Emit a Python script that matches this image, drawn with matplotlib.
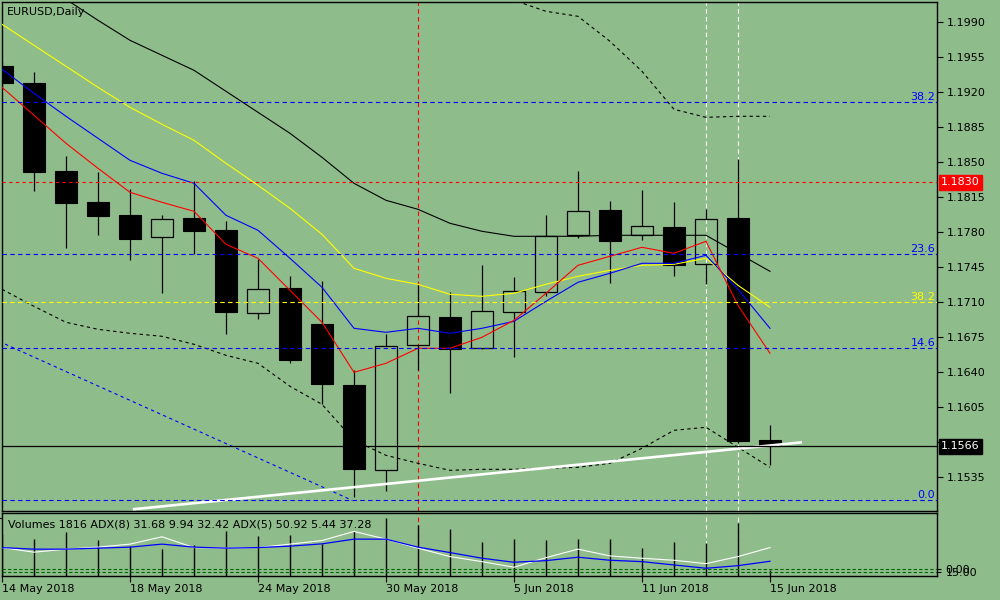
import numpy as np
import matplotlib.pyplot as plt

BG = '#8fbc8b'

# daily EURUSD candles, 14 May .. 15 Jun 2018 (trading days only)
dates = ['14 May', '15 May', '16 May', '17 May', '18 May',
         '21 May', '22 May', '23 May', '24 May', '25 May',
         '28 May', '29 May', '30 May', '31 May', '1 Jun',
         '4 Jun', '5 Jun', '6 Jun', '7 Jun', '8 Jun',
         '11 Jun', '12 Jun', '13 Jun', '14 Jun', '15 Jun']
opens  = [1.1946, 1.1929, 1.1841, 1.1810, 1.1797, 1.1775, 1.1794, 1.1782, 1.1699, 1.1724,
          1.1688, 1.1627, 1.1542, 1.1667, 1.1695, 1.1664, 1.1700, 1.1720, 1.1777, 1.1802,
          1.1777, 1.1785, 1.1748, 1.1794, 1.1572]
highs  = [1.1950, 1.1940, 1.1856, 1.1840, 1.1823, 1.1797, 1.1831, 1.1791, 1.1753, 1.1736,
          1.1731, 1.1642, 1.1678, 1.1727, 1.1720, 1.1747, 1.1735, 1.1797, 1.1841, 1.1811,
          1.1822, 1.1810, 1.1803, 1.1853, 1.1587]
lows   = [1.1926, 1.1821, 1.1764, 1.1777, 1.1752, 1.1719, 1.1758, 1.1678, 1.1693, 1.1649,
          1.1608, 1.1515, 1.1521, 1.1642, 1.1619, 1.1663, 1.1655, 1.1716, 1.1774, 1.1729,
          1.1772, 1.1736, 1.1728, 1.1569, 1.1547]
closes = [1.1929, 1.1840, 1.1809, 1.1796, 1.1773, 1.1793, 1.1781, 1.1700, 1.1723, 1.1652,
          1.1628, 1.1543, 1.1666, 1.1696, 1.1663, 1.1701, 1.1721, 1.1776, 1.1801, 1.1771,
          1.1786, 1.1747, 1.1793, 1.1571, 1.1566]

# moving averages / bands
ma_black  = [1.2056, 1.2034, 1.2013, 1.1992, 1.1972, 1.1957, 1.1942, 1.1921, 1.1900, 1.1879,
             1.1855, 1.1829, 1.1812, 1.1803, 1.1789, 1.1781, 1.1776, 1.1776, 1.1776, 1.1777,
             1.1777, 1.1777, 1.1777, 1.1759, 1.1741]
ma_yellow = [1.1988, 1.1967, 1.1946, 1.1925, 1.1905, 1.1888, 1.1872, 1.1849, 1.1827, 1.1804,
             1.1778, 1.1744, 1.1734, 1.1728, 1.1718, 1.1716, 1.1719, 1.1728, 1.1736, 1.1742,
             1.1747, 1.1748, 1.1754, 1.1727, 1.1705]
ma_blue   = [1.1943, 1.1919, 1.1896, 1.1874, 1.1852, 1.1839, 1.1829, 1.1797, 1.1782, 1.1754,
             1.1725, 1.1684, 1.1680, 1.1684, 1.1679, 1.1684, 1.1691, 1.1711, 1.1730, 1.1739,
             1.1749, 1.1749, 1.1757, 1.1723, 1.1684]
ma_red    = [1.1925, 1.1897, 1.1869, 1.1844, 1.1820, 1.1810, 1.1801, 1.1768, 1.1754, 1.1722,
             1.1690, 1.1640, 1.1649, 1.1664, 1.1664, 1.1675, 1.1692, 1.1719, 1.1747, 1.1756,
             1.1765, 1.1759, 1.1771, 1.1707, 1.1659]
band_low  = [1.1723, 1.1706, 1.1690, 1.1683, 1.1679, 1.1676, 1.1668, 1.1657, 1.1649, 1.1626,
             1.1608, 1.1572, 1.1557, 1.1549, 1.1542, 1.1543, 1.1543, 1.1544, 1.1545, 1.1549,
             1.1564, 1.1582, 1.1585, 1.1565, 1.1545]
band_up_start = 15
band_up   = [1.2027, 1.2012, 1.2001, 1.1996, 1.1971, 1.1941, 1.1903, 1.1895, 1.1896, 1.1896]

# trend lines (bar index, price)
white_tl = ([4.09, 25.0], [1.1503, 1.1570])
blue_tl = ([-0.1, 10.94], [1.1671, 1.1512])

# horizontal levels
fib_blue = [(1.1910, '38.2'), (1.1758, '23.6'), (1.1664, '14.6'), (1.1512, '0.0')]
fib_yellow = (1.1710, '38.2')
red_level = 1.1830
last_price = 1.1566
red_vline = 13
white_vlines = [22, 23]

# lower window
volumes = [12500, 11063, 13066, 10764, 8970, 8073, 9269, 13455, 11960, 12259,
           9568, 13246, 17254, 15040, 14053, 10166, 11063, 10764, 11063, 11063,
           8372, 10166, 9867, 15847, 1816]
adx_white = [45.1, 37.8, 42.6, 45.8, 50.6, 62.2, 45.1, 44.2, 45.1, 50.6,
             56.3, 70.7, 58.5, 44.2, 30.8, 22.8, 13.9, 29.2, 42.6, 31.9,
             28.2, 25.0, 19.6, 30.8, 45.1]
adx_blue = [45.1, 42.6, 42.6, 44.2, 45.8, 50.6, 45.8, 44.2, 45.1, 47.4,
            51.0, 58.5, 58.5, 45.8, 37.2, 28.2, 21.8, 24.4, 29.8, 25.0,
            22.8, 17.5, 12.3, 16.4, 23.4]
adx_levels = [6.4, 10.7]

xlabels_idx = [0, 4, 8, 12, 16, 20, 24]
xlabels = ['14 May 2018', '18 May 2018', '24 May 2018', '30 May 2018',
           '5 Jun 2018', '11 Jun 2018', '15 Jun 2018']

FS = 8.0
plt.rcParams['font.family'] = ['DejaVu Sans']

fig = plt.figure(figsize=(10, 6), dpi=100, facecolor=BG)
ax = fig.add_axes([0.002, 89 / 600, 0.935, 509 / 600], facecolor=BG)
axv = fig.add_axes([0.002, 24 / 600, 0.935, 63 / 600], facecolor=BG)

x = np.arange(len(dates))
o = np.array(opens); c = np.array(closes)
h = np.array(highs); l = np.array(lows)
top = np.maximum(o, c); bot = np.minimum(o, c)
bear = c < o

# vertical markers (under candles)
for a in (ax, axv):
    a.axvline(red_vline, color='red', lw=0.8, ls=(0, (4, 3)), zorder=0.5)
    for v in white_vlines:
        a.axvline(v, color='white', lw=0.8, ls=(0, (4, 3)), zorder=0.5)

# wicks
ax.vlines(x, top, h, color='black', lw=0.9, zorder=2)
ax.vlines(x, l, bot, color='black', lw=0.9, zorder=2)
# bodies
ax.bar(x[bear], (top - bot)[bear], bottom=bot[bear], width=0.7,
       color='black', edgecolor='black', lw=0.8, zorder=2)
ax.bar(x[~bear], (top - bot)[~bear], bottom=bot[~bear], width=0.7,
       facecolor='none', edgecolor='black', lw=0.9, zorder=2)

# moving averages
ax.plot(x, ma_black, color='black', lw=0.8, zorder=3)
ax.plot(x, ma_yellow, color='yellow', lw=0.8, zorder=3)
ax.plot(x, ma_blue, color='blue', lw=0.8, zorder=3)
ax.plot(x, ma_red, color='red', lw=0.8, zorder=3)
ax.plot(x, band_low, color='black', lw=0.8, ls=(0, (3, 3)), zorder=3)
ax.plot(x[band_up_start:], band_up, color='black', lw=0.8, ls=(0, (3, 3)), zorder=3)

# trend lines
ax.plot(*blue_tl, color='blue', lw=0.8, ls=(0, (3, 3)), zorder=3)
ax.plot(*white_tl, color='white', lw=1.9, zorder=3, solid_capstyle='butt')

# levels
trans = ax.get_yaxis_transform()
for lv, txt in fib_blue:
    ax.axhline(lv, color='blue', lw=0.8, ls=(0, (4, 3)), zorder=3)
    ax.text(0.998, lv + 0.00025, txt, transform=trans, color='blue',
            fontsize=FS, ha='right', va='baseline')
ax.axhline(fib_yellow[0], color='yellow', lw=0.8, ls=(0, (4, 3)), zorder=3)
ax.text(0.998, fib_yellow[0] + 0.00025, fib_yellow[1], transform=trans,
        color='yellow', fontsize=FS, ha='right', va='baseline')
ax.axhline(red_level, color='red', lw=0.8, ls=(0, (3, 3)), zorder=3)
ax.axhline(last_price, color='black', lw=0.9, zorder=3)

# price boxes on the right scale
for lv, fc in ((red_level, 'red'), (last_price, 'black')):
    ax.text(1.004, lv, f'{lv:.4f}', transform=trans, color='white', fontsize=FS,
            ha='left', va='center', clip_on=False, zorder=10,
            bbox=dict(boxstyle='square,pad=0.2', fc=fc, ec=fc))

ax.set_xlim(0, 29.22)
ax.set_ylim(1.15013, 1.20103)
ax.yaxis.tick_right()
yt = np.round(np.arange(1.1535, 1.1991, 0.0035), 4)
ax.set_yticks(yt)
# the 1.1570 label sits under the last-price box
ax.set_yticklabels(['' if abs(v - 1.1570) < 1e-6 else f'{v:.4f}' for v in yt])
ax.tick_params(axis='y', direction='out', length=4, width=0.8, pad=3,
               labelsize=FS, colors='black')
ax.set_xticks([])
for s in ax.spines.values():
    s.set_color('black'); s.set_linewidth(1.0)

ax.text(0.0053, 0.980, 'EURUSD,Daily', transform=ax.transAxes, fontsize=FS,
        ha='left', va='center')

# lower window: volumes + ADX lines
axv.vlines(x, 0, volumes, color='black', lw=1.0, zorder=2)
axv.set_xlim(0, 29.22)
axv.set_ylim(0, 18750)
axv.yaxis.tick_right()
axv.set_yticks([17254])
axv.set_yticklabels(['17254'], va='top')
axv.tick_params(axis='y', direction='out', length=3, width=0.8, pad=3,
                labelsize=FS)
axv.set_xticks(xlabels_idx)
axv.set_xticklabels(xlabels, ha='left')
axv.tick_params(axis='x', direction='out', length=4, width=0.8, pad=2,
                labelsize=FS)
for s in axv.spines.values():
    s.set_color('black'); s.set_linewidth(1.0)

axa = axv.twinx()
axa.set_ylim(0, 100)
for lv in adx_levels:
    axa.axhline(lv, color='#006400', lw=0.8, ls=(0, (3, 2)), zorder=1)
axa.plot(x, adx_white, color='white', lw=0.8, zorder=3)
axa.plot(x, adx_blue, color='blue', lw=0.9, zorder=3)
axa.set_yticks(adx_levels)
axa.set_yticklabels(['15.00', '0.00'])
axa.tick_params(axis='y', direction='out', length=3, width=0.8, pad=3,
                labelsize=FS)
for s in axa.spines.values():
    s.set_visible(False)

axa.text(0.006, 0.81, 'Volumes 1816 ADX(8) 31.68 9.94 32.42 ADX(5) 50.92 5.44 37.28',
         transform=axa.transAxes, fontsize=FS, ha='left', va='center', zorder=5)

fig.savefig('out.png', dpi=100, facecolor=BG)
